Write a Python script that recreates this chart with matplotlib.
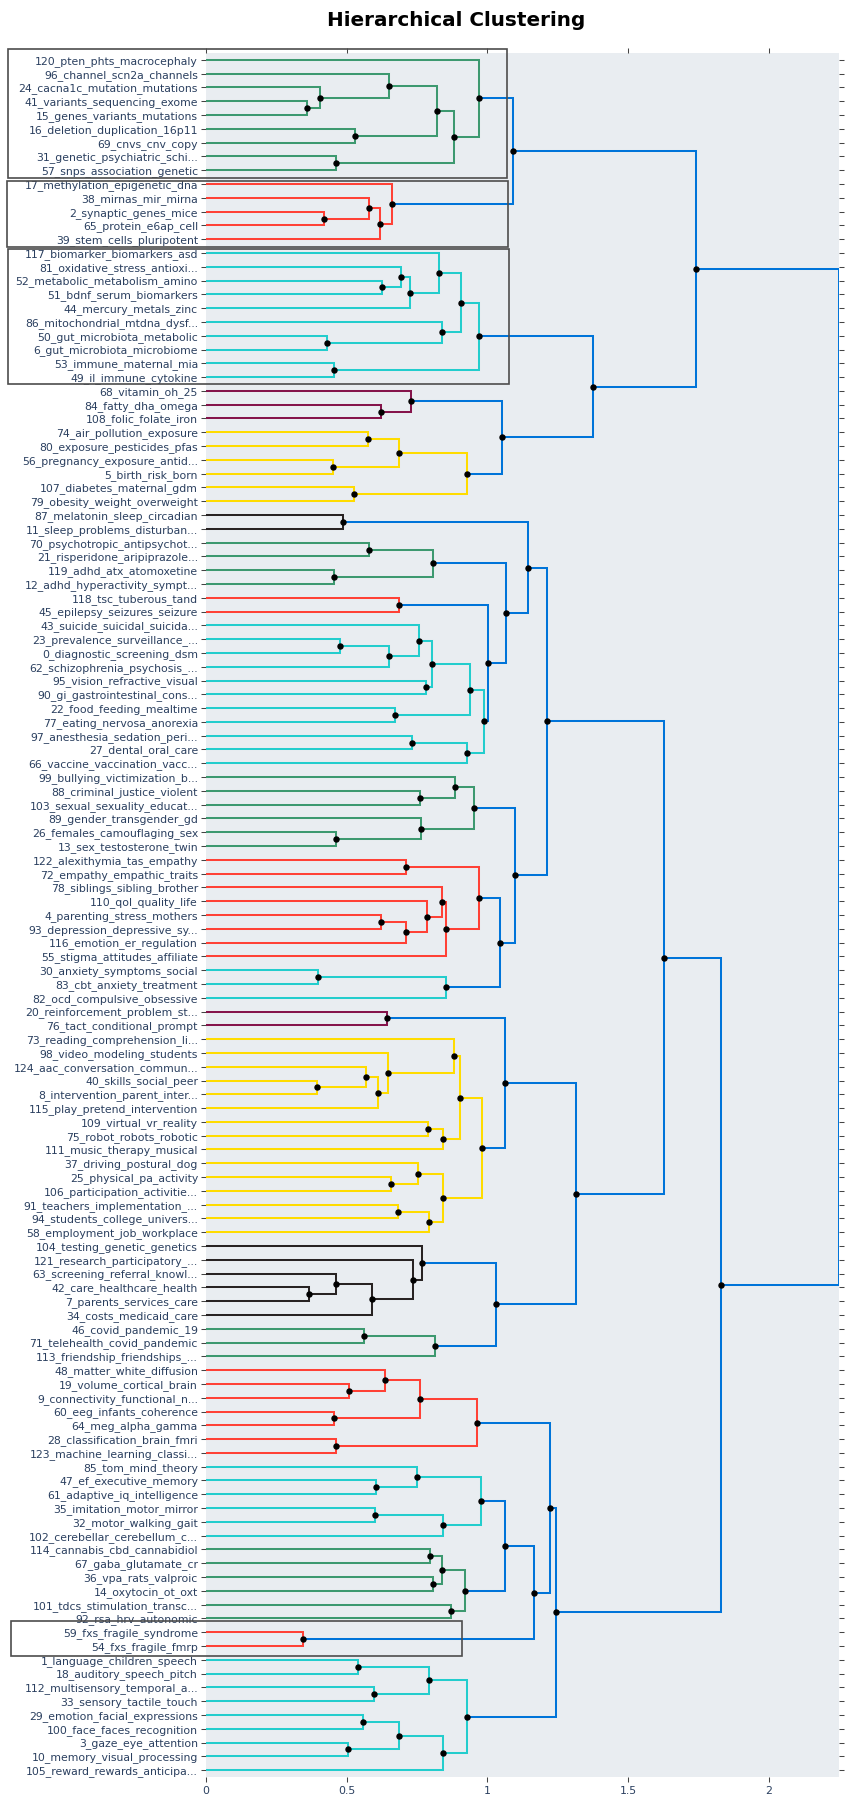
import matplotlib
matplotlib.use("Agg")
import matplotlib.pyplot as plt
from matplotlib.patches import Rectangle

# leaf labels, top to bottom
leaf_labels = [
    "120_pten_phts_macrocephaly", "96_channel_scn2a_channels", "24_cacna1c_mutation_mutations",
    "41_variants_sequencing_exome", "15_genes_variants_mutations", "16_deletion_duplication_16p11",
    "69_cnvs_cnv_copy", "31_genetic_psychiatric_schi...", "57_snps_association_genetic",
    "17_methylation_epigenetic_dna", "38_mirnas_mir_mirna", "2_synaptic_genes_mice",
    "65_protein_e6ap_cell", "39_stem_cells_pluripotent", "117_biomarker_biomarkers_asd",
    "81_oxidative_stress_antioxi...", "52_metabolic_metabolism_amino", "51_bdnf_serum_biomarkers",
    "44_mercury_metals_zinc", "86_mitochondrial_mtdna_dysf...", "50_gut_microbiota_metabolic",
    "6_gut_microbiota_microbiome", "53_immune_maternal_mia", "49_il_immune_cytokine",
    "68_vitamin_oh_25", "84_fatty_dha_omega", "108_folic_folate_iron",
    "74_air_pollution_exposure", "80_exposure_pesticides_pfas", "56_pregnancy_exposure_antid...",
    "5_birth_risk_born", "107_diabetes_maternal_gdm", "79_obesity_weight_overweight",
    "87_melatonin_sleep_circadian", "11_sleep_problems_disturban...", "70_psychotropic_antipsychot...",
    "21_risperidone_aripiprazole...", "119_adhd_atx_atomoxetine", "12_adhd_hyperactivity_sympt...",
    "118_tsc_tuberous_tand", "45_epilepsy_seizures_seizure", "43_suicide_suicidal_suicida...",
    "23_prevalence_surveillance_...", "0_diagnostic_screening_dsm", "62_schizophrenia_psychosis_...",
    "95_vision_refractive_visual", "90_gi_gastrointestinal_cons...", "22_food_feeding_mealtime",
    "77_eating_nervosa_anorexia", "97_anesthesia_sedation_peri...", "27_dental_oral_care",
    "66_vaccine_vaccination_vacc...", "99_bullying_victimization_b...", "88_criminal_justice_violent",
    "103_sexual_sexuality_educat...", "89_gender_transgender_gd", "26_females_camouflaging_sex",
    "13_sex_testosterone_twin", "122_alexithymia_tas_empathy", "72_empathy_empathic_traits",
    "78_siblings_sibling_brother", "110_qol_quality_life", "4_parenting_stress_mothers",
    "93_depression_depressive_sy...", "116_emotion_er_regulation", "55_stigma_attitudes_affiliate",
    "30_anxiety_symptoms_social", "83_cbt_anxiety_treatment", "82_ocd_compulsive_obsessive",
    "20_reinforcement_problem_st...", "76_tact_conditional_prompt", "73_reading_comprehension_li...",
    "98_video_modeling_students", "124_aac_conversation_commun...", "40_skills_social_peer",
    "8_intervention_parent_inter...", "115_play_pretend_intervention", "109_virtual_vr_reality",
    "75_robot_robots_robotic", "111_music_therapy_musical", "37_driving_postural_dog",
    "25_physical_pa_activity", "106_participation_activitie...", "91_teachers_implementation_...",
    "94_students_college_univers...", "58_employment_job_workplace", "104_testing_genetic_genetics",
    "121_research_participatory_...", "63_screening_referral_knowl...", "42_care_healthcare_health",
    "7_parents_services_care", "34_costs_medicaid_care", "46_covid_pandemic_19",
    "71_telehealth_covid_pandemic", "113_friendship_friendships_...", "48_matter_white_diffusion",
    "19_volume_cortical_brain", "9_connectivity_functional_n...", "60_eeg_infants_coherence",
    "64_meg_alpha_gamma", "28_classification_brain_fmri", "123_machine_learning_classi...",
    "85_tom_mind_theory", "47_ef_executive_memory", "61_adaptive_iq_intelligence",
    "35_imitation_motor_mirror", "32_motor_walking_gait", "102_cerebellar_cerebellum_c...",
    "114_cannabis_cbd_cannabidiol", "67_gaba_glutamate_cr", "36_vpa_rats_valproic",
    "14_oxytocin_ot_oxt", "101_tdcs_stimulation_transc...", "92_rsa_hrv_autonomic",
    "59_fxs_fragile_syndrome", "54_fxs_fragile_fmrp", "1_language_children_speech",
    "18_auditory_speech_pitch", "112_multisensory_temporal_a...", "33_sensory_tactile_touch",
    "29_emotion_facial_expressions", "100_face_faces_recognition", "3_gaze_eye_attention",
    "10_memory_visual_processing", "105_reward_rewards_anticipa...",
]

# merges: (name, left, right, height, colour key); ints are leaf rows
merges = [
    ("g1", 3, 4, 0.360, "g"), ("g2", 2, "g1", 0.405, "g"), ("g3", 1, "g2", 0.651, "g"),
    ("g4", 5, 6, 0.531, "g"), ("g5", "g3", "g4", 0.822, "g"), ("g6", 7, 8, 0.462, "g"),
    ("g7", "g5", "g6", 0.880, "g"), ("g8", 0, "g7", 0.970, "g"),
    ("r1", 11, 12, 0.418, "r"), ("r2", 10, "r1", 0.580, "r"), ("r3", "r2", 13, 0.619, "r"),
    ("r4", 9, "r3", 0.662, "r"),
    ("b1", "g8", "r4", 1.091, "b"),
    ("c1", 16, 17, 0.627, "c"), ("c2", 15, "c1", 0.692, "c"), ("c3", "c2", 18, 0.726, "c"),
    ("c4", 14, "c3", 0.829, "c"), ("c5", 20, 21, 0.430, "c"), ("c6", 19, "c5", 0.837, "c"),
    ("c7", "c4", "c6", 0.905, "c"), ("c8", 22, 23, 0.456, "c"), ("c9", "c7", "c8", 0.971, "c"),
    ("m1", 25, 26, 0.623, "m"), ("m2", 24, "m1", 0.727, "m"),
    ("y1", 27, 28, 0.575, "y"), ("y2", 29, 30, 0.452, "y"), ("y3", "y1", "y2", 0.684, "y"),
    ("y4", 31, 32, 0.525, "y"), ("y5", "y3", "y4", 0.927, "y"),
    ("b2", "m2", "y5", 1.050, "b"), ("b3", "c9", "b2", 1.374, "b"), ("b4", "b1", "b3", 1.741, "b"),
    ("k1", 33, 34, 0.488, "k"),
    ("g9", 35, 36, 0.579, "g"), ("g10", 37, 38, 0.454, "g"), ("g11", "g9", "g10", 0.805, "g"),
    ("r5", 39, 40, 0.686, "r"),
    ("c10", 42, 43, 0.476, "c"), ("c11", "c10", 44, 0.649, "c"), ("c12", 41, "c11", 0.757, "c"),
    ("c13", 45, 46, 0.782, "c"), ("c14", "c12", "c13", 0.802, "c"), ("c15", 47, 48, 0.670, "c"),
    ("c16", "c14", "c15", 0.937, "c"), ("c17", 49, 50, 0.732, "c"), ("c18", "c17", 51, 0.927, "c"),
    ("c19", "c16", "c18", 0.986, "c"),
    ("b5", "r5", "c19", 1.003, "b"), ("b6", "g11", "b5", 1.067, "b"), ("b7", "k1", "b6", 1.143, "b"),
    ("g12", 53, 54, 0.761, "g"), ("g13", 52, "g12", 0.886, "g"), ("g14", 56, 57, 0.462, "g"),
    ("g15", 55, "g14", 0.764, "g"), ("g16", "g13", "g15", 0.952, "g"),
    ("r6", 58, 59, 0.709, "r"), ("r7", 62, 63, 0.622, "r"), ("r8", "r7", 64, 0.710, "r"),
    ("r9", 61, "r8", 0.785, "r"), ("r10", 60, "r9", 0.837, "r"), ("r11", "r10", 65, 0.854, "r"),
    ("r12", "r6", "r11", 0.970, "r"),
    ("c20", 66, 67, 0.399, "c"), ("c21", "c20", 68, 0.853, "c"),
    ("b8", "r12", "c21", 1.046, "b"), ("b9", "g16", "b8", 1.099, "b"), ("b10", "b7", "b9", 1.211, "b"),
    ("m3", 69, 70, 0.644, "m"),
    ("y6", 74, 75, 0.395, "y"), ("y7", 73, "y6", 0.568, "y"), ("y8", "y7", 76, 0.612, "y"),
    ("y9", 72, "y8", 0.648, "y"), ("y10", 71, "y9", 0.881, "y"), ("y11", 77, 78, 0.787, "y"),
    ("y12", "y11", 79, 0.843, "y"), ("y13", "y10", "y12", 0.901, "y"), ("y14", 81, 82, 0.657, "y"),
    ("y15", 80, "y14", 0.754, "y"), ("y16", 83, 84, 0.681, "y"), ("y17", "y16", 85, 0.791, "y"),
    ("y18", "y15", "y17", 0.841, "y"), ("y19", "y13", "y18", 0.980, "y"),
    ("b11", "m3", "y19", 1.061, "b"),
    ("k2", 89, 90, 0.366, "k"), ("k3", 88, "k2", 0.461, "k"), ("k4", "k3", 91, 0.591, "k"),
    ("k5", 87, "k4", 0.737, "k"), ("k6", 86, "k5", 0.768, "k"),
    ("g17", 92, 93, 0.561, "g"), ("g18", "g17", 94, 0.815, "g"),
    ("b12", "k6", "g18", 1.031, "b"), ("b13", "b11", "b12", 1.314, "b"), ("b14", "b10", "b13", 1.629, "b"),
    ("r13", 96, 97, 0.507, "r"), ("r14", 95, "r13", 0.635, "r"), ("r15", 98, 99, 0.456, "r"),
    ("r16", "r14", "r15", 0.761, "r"), ("r17", 100, 101, 0.462, "r"), ("r18", "r16", "r17", 0.964, "r"),
    ("c22", 103, 104, 0.604, "c"), ("c23", 102, "c22", 0.748, "c"), ("c24", 105, 106, 0.599, "c"),
    ("c25", "c24", 107, 0.841, "c"), ("c26", "c23", "c25", 0.977, "c"),
    ("g19", 108, 109, 0.795, "g"), ("g20", 110, 111, 0.805, "g"), ("g21", "g19", "g20", 0.840, "g"),
    ("g22", 112, 113, 0.870, "g"), ("g23", "g21", "g22", 0.920, "g"),
    ("b15", "c26", "g23", 1.061, "b"),
    ("r19", 114, 115, 0.345, "r"),
    ("b16", "b15", "r19", 1.164, "b"), ("b17", "r18", "b16", 1.222, "b"),
    ("c27", 116, 117, 0.539, "c"), ("c28", 118, 119, 0.598, "c"), ("c29", "c27", "c28", 0.793, "c"),
    ("c30", 120, 121, 0.557, "c"), ("c31", 122, 123, 0.506, "c"), ("c32", "c30", "c31", 0.684, "c"),
    ("c33", "c32", 124, 0.841, "c"), ("c34", "c29", "c33", 0.927, "c"),
    ("b18", "b17", "c34", 1.245, "b"), ("b19", "b14", "b18", 1.831, "b"),
    ("root", "b4", "b19", 2.249, "b"),
]

x_ticks = [0, 0.5, 1, 1.5, 2]
x_tick_labels = ["0", "0.5", "1", "1.5", "2"]

# highlighted clusters (first row, last row)
box_rows = [(0, 8), (9, 13), (14, 23), (114, 115)]

colours = {
    "b": "#0074D9", "c": "#23CDCD", "g": "#3D9970", "k": "#282323",
    "m": "#85144B", "r": "#FF4136", "y": "#FFDC00",
}
# box layout: (pad above, pad below) in rows, (left, right) in data x
box_pads = [(0.82, 0.54), (0.25, 0.54), (0.29, 0.53), (0.83, 0.71)]
box_x = [(-0.702, 1.070), (-0.708, 1.074), (-0.703, 1.075), (-0.694, 0.909)]

text_col = "#2a3f5f"
tick_col = "#444444"

fig = plt.figure(figsize=(8.51, 18.02), dpi=100)
ax = fig.add_axes([206 / 851, 1 - 1777 / 1802, 633 / 851, 1724 / 1802])
ax.set_facecolor("#E9EDF1")

pos = {i: float(i) for i in range(len(leaf_labels))}
hgt = {i: 0.0 for i in range(len(leaf_labels))}
dots_x, dots_y = [], []
for name, a, b, h, ck in merges:
    ya, yb = pos[a], pos[b]
    ax.plot([hgt[a], h, h, hgt[b]], [ya, ya, yb, yb], color=colours[ck],
            lw=1.45, solid_joinstyle="miter", zorder=2)
    pos[name] = (ya + yb) / 2
    hgt[name] = h
    if name != "root":
        dots_x.append(h)
        dots_y.append(pos[name])

ax.plot(dots_x, dots_y, "o", color="black", markersize=3.6, zorder=3)

for (r0, r1), (pt, pb), (x0, x1) in zip(box_rows, box_pads, box_x):
    rect = Rectangle((x0, r0 - pt), x1 - x0, (r1 + pb) - (r0 - pt), fill=False,
                     edgecolor="#4d4d4d", lw=1.2, clip_on=False, zorder=5)
    ax.add_patch(rect)

ax.set_xlim(0, 2.249)
ax.set_ylim(len(leaf_labels) - 0.5, -0.5)
ax.set_yticks(range(len(leaf_labels)))
ax.set_yticklabels(leaf_labels)
ax.set_xticks(x_ticks)
ax.set_xticklabels(x_tick_labels)

ax.tick_params(axis="y", which="both", left=True, right=True, labelright=False,
               direction="out", length=3.6, width=0.75, color=tick_col,
               labelsize=7.8, labelcolor=text_col, pad=2.2)
ax.tick_params(axis="x", which="both", bottom=True, top=True, labeltop=False,
               direction="out", length=3.6, width=0.75, color=tick_col,
               labelsize=7.8, labelcolor=text_col, pad=3)
for s in ax.spines.values():
    s.set_visible(False)

fig.text(456 / 851, 1 - 26 / 1802, "Hierarchical Clustering", ha="center",
         va="baseline", fontsize=14.4, fontweight="bold", color="black")

fig.savefig("out.png", dpi=100, facecolor="white")
